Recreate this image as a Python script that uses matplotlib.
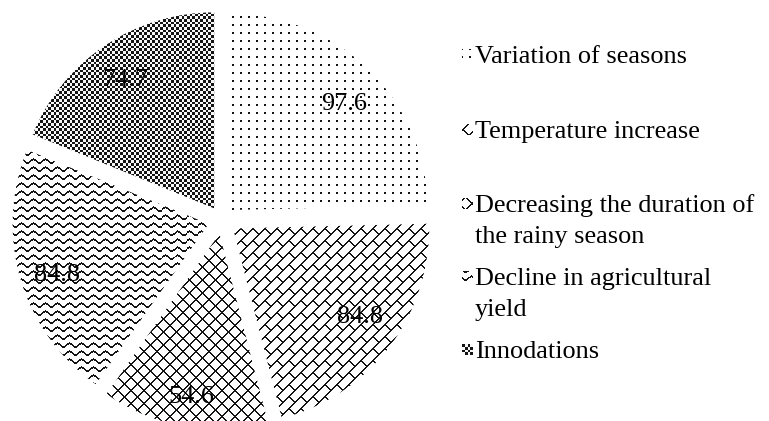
import numpy as np
import matplotlib
matplotlib.use("Agg")
import matplotlib.pyplot as plt

categories = [
    "Variation of seasons",
    "Temperature increase",
    "Decreasing the duration of\nthe rainy season",
    "Decline in agricultural\nyield",
    "Innodations",
]
values = [97.6, 84.8, 54.6, 84.8, 74.7]

# value label placement: radial fraction of the radius and small angular nudge (deg)
label_dist = [0.80, 0.78, 0.83, 0.81, 0.81]
label_turn = [-1.5, 3.1, 0.5, 1.2, 0.3]

W, H = 769, 421
SERIF = ["Liberation Serif", "DejaVu Serif"]
FS = 18.9
EM = FS * 100 / 72  # font size in pixels


# ---- bitmap fill patterns (1 = white, 0 = black), evaluated on pixel grids ----
def dots(X, Y):
    return np.where((X % 8 < 2) & (Y % 8 < 2), 0.08, 1.0)


def brick(X, Y):
    P = 12
    u = X + Y
    v = X - Y
    line = (u % P) < 2
    band = u // P
    rung = ((v + (band % 2) * P) % (2 * P)) < 2
    return np.where(line | rung, 0.08, 1.0)


def diamond(X, Y):
    P = 13
    u = X + Y
    v = X - Y
    return np.where(((u % P) < 2) | ((v % P) < 2), 0.08, 1.0)


def wave(X, Y):
    yc = 2.0 * np.sin(2 * np.pi * X / 12.0)
    return np.where(((Y - yc) % 8) < 2.0, 0.08, 1.0)


def checker(X, Y):
    return np.where(((X * 3) // 8 + (Y * 3) // 8) % 2 == 0, 0.08, 0.97)


patterns = [dots, brick, diamond, wave, checker]
# where each legend swatch samples its pattern
swatch_phase = [(1, 1), (0, -5), (-9, -5), (0, 2), (0, 0)]

fig = plt.figure(figsize=(W / 100, H / 100), dpi=100)
ax = fig.add_axes([0, 0, 1, 1])

wedges, _ = ax.pie(
    values,
    radius=196,
    center=(222, H - 220),
    startangle=90,
    counterclock=False,
    explode=[14] * len(values),
    wedgeprops=dict(facecolor="white", linewidth=0),
)

rows, cols = np.mgrid[0:H, 0:W]
for wedge, fn in zip(wedges, patterns):
    im = ax.imshow(fn(cols, rows), cmap="gray", vmin=0, vmax=1,
                   extent=(0, W, 0, H), origin="upper",
                   interpolation="nearest", zorder=2)
    im.set_clip_path(wedge)

# value labels (digits vertically centred on the anchor point)
for wedge, val, frac, turn in zip(wedges, values, label_dist, label_turn):
    mid = np.deg2rad((wedge.theta1 + wedge.theta2) / 2 + turn)
    x0, y0 = wedge.center
    ax.text(x0 + frac * wedge.r * np.cos(mid),
            y0 + frac * wedge.r * np.sin(mid) - 0.34 * EM,
            f"{val:.1f}", ha="center", va="baseline", fontsize=FS,
            family=SERIF, color="black", zorder=3)

# legend
text_x = 475
swatch = 11
swatch_x = text_x - swatch - 2
baselines = [63, 138, 212, 285, 358]
line_gap = 31
sy, sx = np.mgrid[0:swatch, 0:swatch]
for cat, fn, base, (px, py) in zip(categories, patterns, baselines, swatch_phase):
    for k, line in enumerate(cat.split("\n")):
        ax.text(text_x, H - (base + k * line_gap), line, ha="left",
                va="baseline", fontsize=FS, family=SERIF, color="black")
    ax.imshow(fn(sx + px, sy + py), cmap="gray", vmin=0, vmax=1,
              extent=(swatch_x, swatch_x + swatch, H - (base - 3), H - (base - 3 - swatch)),
              origin="upper", interpolation="nearest", zorder=2)

ax.set_xlim(0, W)
ax.set_ylim(0, H)
ax.set_aspect("auto")
ax.axis("off")

fig.savefig("out.png", dpi=100)
